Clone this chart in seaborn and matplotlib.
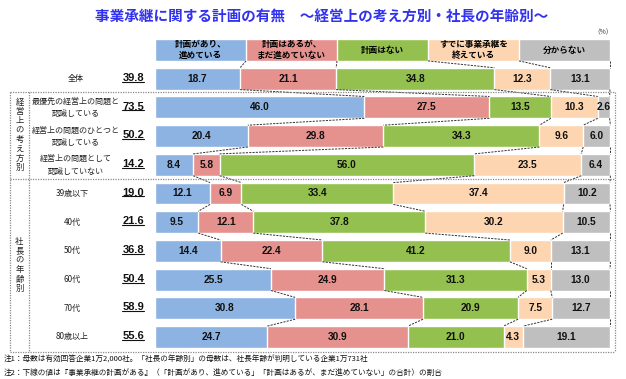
import numpy as np
import pandas as pd
import seaborn as sns
import matplotlib.pyplot as plt
import matplotlib.transforms as mtrans
from matplotlib.lines import Line2D

# ---------------- data ----------------
title = "事業承継に関する計画の有無　～経営上の考え方別・社長の年齢別～"
series_names = ["計画があり、\n進めている", "計画はあるが、\nまだ進めていない", "計画はない",
                "すでに事業承継を\n終えている", "分からない"]
categories = ["全体",
              "最優先の経営上の問題と\n認識している",
              "経営上の問題のひとつと\n認識している",
              "経営上の問題として\n認識していない",
              "39歳以下", "40代", "50代", "60代", "70代", "80歳以上"]
plan_total = ["39.8", "73.5", "50.2", "14.2", "19.0", "21.6", "36.8", "50.4", "58.9", "55.6"]
s_progress = [18.7, 46.0, 20.4, 8.4, 12.1, 9.5, 14.4, 25.5, 30.8, 24.7]
s_not_yet = [21.1, 27.5, 29.8, 5.8, 6.9, 12.1, 22.4, 24.9, 28.1, 30.9]
s_no_plan = [34.8, 13.5, 34.3, 56.0, 33.4, 37.8, 41.2, 31.3, 20.9, 21.0]
s_done = [12.3, 10.3, 9.6, 23.5, 37.4, 30.2, 9.0, 5.3, 7.5, 4.3]
s_unknown = [13.1, 2.6, 6.0, 6.4, 10.2, 10.5, 13.1, 13.0, 12.7, 19.1]
header_share = [20, 20, 20, 20, 20]
group_names = ["経営上の考え方別", "社長の年齢別"]
note1 = "注1：母数は有効回答企業1万2,000社。「社長の年齢別」の母数は、社長年齢が判明している企業1万731社"
note2 = "注2：下線の値は『事業承継の計画がある』（「計画があり、進めている」「計画はあるが、まだ進めていない」の合計）の割合"

colors = ["#8DB3E2", "#E5918E", "#93C04E", "#FDD5B1", "#BFBFBF"]

# ---------------- setup ----------------
sns.set_theme(style="white")
plt.rcParams['font.family'] = ['Noto Sans CJK JP', 'DejaVu Sans']

W, H = 626, 379
fig = plt.figure(figsize=(W / 100, H / 100), dpi=100)
fig.patch.set_facecolor("white")

def fx(x):
    return x / W

def fy(y):
    return 1 - y / H

row_top, row_bot = 35.65, 351.35
ax = fig.add_axes([fx(155), fy(row_bot), fx(610) - fx(155), fy(row_top) - fy(row_bot)])

rows = ["hdr"] + ["r%d" % i for i in range(len(categories))]
vals = np.array([header_share] + [list(t) for t in zip(s_progress, s_not_yet, s_no_plan, s_done, s_unknown)], dtype=float)
cum = np.cumsum(vals, axis=1)
df = pd.DataFrame({"row": rows})
for k in range(5):
    df["c%d" % k] = cum[:, k]

bh = 0.76
for k in range(4, -1, -1):
    sns.barplot(data=df, x="c%d" % k, y="row", order=rows, color=colors[k], saturation=1,
                width=bh, edgecolor="white", linewidth=1.0, errorbar=None, orient="h", ax=ax)

ax.set_xlim(0, 100)
ax.set_ylim(len(rows) - 0.5, -0.5)
ax.axis("off")

# header labels
for k in range(5):
    xc = cum[0, k] - vals[0, k] / 2
    ax.text(xc, 0, series_names[k], ha="center", va="center", fontsize=6.2, fontweight="bold",
            color="black", linespacing=1.15)

# value labels
for i in range(1, len(rows)):
    for k in range(5):
        v = vals[i, k]
        xc = cum[i, k] - v / 2
        ax.text(xc, i, f"{v:.1f}", ha="center", va="center", fontsize=7.3, fontweight="bold",
                family="Liberation Sans", color="#111111", clip_on=False)

# series lines
for i in range(len(rows) - 1):
    for k in range(5):
        ax.plot([cum[i, k], cum[i + 1, k]], [i + bh / 2, i + 1 - bh / 2], ls=(0, (2.2, 1.2)),
                color="#333333", lw=0.7, clip_on=False)

trans = mtrans.blended_transform_factory(fig.transFigure, ax.transData)

# left category labels and totals
total_texts = []
for i, cat in enumerate(categories):
    r = i + 1
    xc = 72 if i >= 4 else 76
    ax.text(fx(xc), r, cat, transform=trans, ha="center", va="center", fontsize=5.8,
            color="#222222", linespacing=1.5)
    t = ax.text(fx(144), r - 0.03, plan_total[i], transform=trans, ha="right", va="center",
                fontsize=8, fontweight="bold", family="Liberation Sans", color="#111111")
    total_texts.append(t)

# title and unit
fig.text(fx(322), fy(17), title, ha="center", va="center", fontsize=10.5, fontweight="bold",
         color="#3232EE")
fig.text(fx(603), fy(32), "（%）", ha="center", va="center", fontsize=4.8, color="#333333")

# group boxes
def fline(xs, ys, **kw):
    fig.add_artist(Line2D([fx(x) for x in xs], [fy(y) for y in ys], transform=fig.transFigure,
                          color="#8A8A8A", lw=0.9, ls=(0, (1, 1)), **kw))

fline([10, 615], [92, 92])
fline([10, 615], [179, 179])
fline([10, 615], [352, 352])
fline([10, 10], [92, 352])
fline([615, 615], [92, 352])
fline([29, 29], [92, 352])

for name, yc in zip(group_names, [135, 265]):
    fig.text(fx(19.5), fy(yc), "\n".join(name), ha="center", va="center", fontsize=6,
             color="#222222", linespacing=1.05)

# notes
fig.text(fx(4), fy(360), note1, ha="left", va="center", fontsize=5.5, color="#111111")
fig.text(fx(4), fy(373), note2, ha="left", va="center", fontsize=5.5, color="#111111")

# underline totals
fig.canvas.draw()
renderer = fig.canvas.get_renderer()
inv = fig.transFigure.inverted()
for t in total_texts:
    bb = t.get_window_extent(renderer)
    (x0, y0), (x1, y1) = inv.transform([[bb.x0, bb.y0], [bb.x1, bb.y1]])
    yline = y0 + (y1 - y0) * 0.12
    fig.add_artist(Line2D([x0, x1], [yline, yline], transform=fig.transFigure, color="#111111", lw=0.8))

fig.savefig("out.png", dpi=100, facecolor="white")
